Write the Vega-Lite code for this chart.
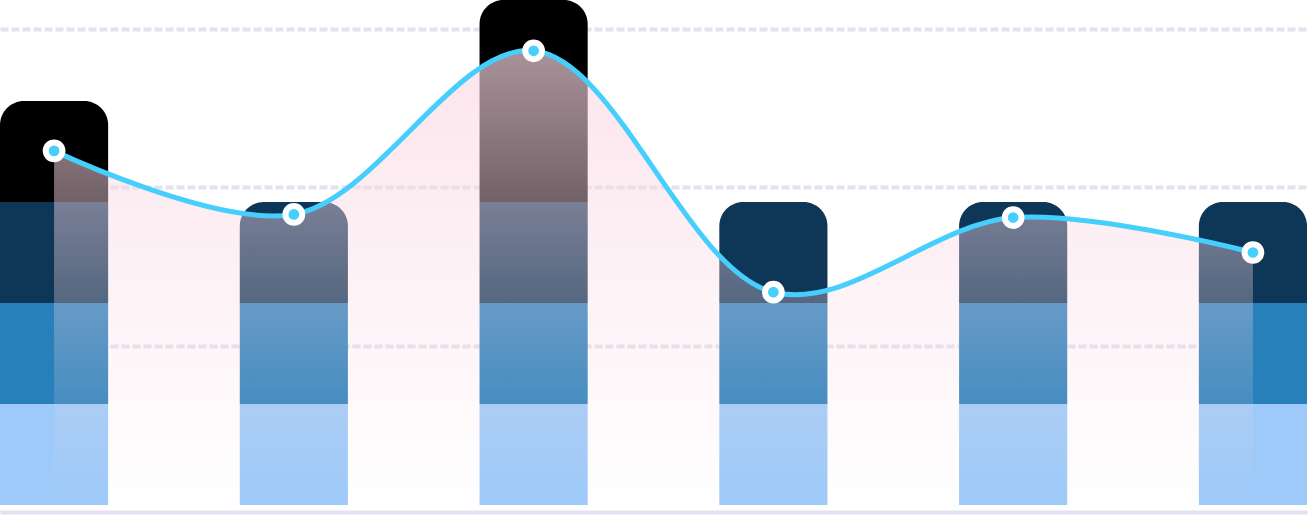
{
  "$schema": "https://vega.github.io/schema/vega-lite/v6.json",
  "description": "Stacked bars with a smoothed trend line and gradient area",
  "width": 1307,
  "height": 505,
  "autosize": "none",
  "padding": {"left": 0, "top": 0, "right": 1, "bottom": 10},
  "background": "white",
  "config": {"view": {"stroke": null}},
  "datasets": {
    "bars": [
      {"cat": "A", "seg": "s1", "lo": 0, "hi": 1, "top": false},
      {"cat": "A", "seg": "s2", "lo": 1, "hi": 2, "top": false},
      {"cat": "A", "seg": "s3", "lo": 2, "hi": 3, "top": false},
      {"cat": "A", "seg": "s4", "lo": 3, "hi": 4, "top": true},
      {"cat": "B", "seg": "s1", "lo": 0, "hi": 1, "top": false},
      {"cat": "B", "seg": "s2", "lo": 1, "hi": 2, "top": false},
      {"cat": "B", "seg": "s3", "lo": 2, "hi": 3, "top": true},
      {"cat": "C", "seg": "s1", "lo": 0, "hi": 1, "top": false},
      {"cat": "C", "seg": "s2", "lo": 1, "hi": 2, "top": false},
      {"cat": "C", "seg": "s3", "lo": 2, "hi": 3, "top": false},
      {"cat": "C", "seg": "s4", "lo": 3, "hi": 5, "top": true},
      {"cat": "D", "seg": "s1", "lo": 0, "hi": 1, "top": false},
      {"cat": "D", "seg": "s2", "lo": 1, "hi": 2, "top": false},
      {"cat": "D", "seg": "s3", "lo": 2, "hi": 3, "top": true},
      {"cat": "E", "seg": "s1", "lo": 0, "hi": 1, "top": false},
      {"cat": "E", "seg": "s2", "lo": 1, "hi": 2, "top": false},
      {"cat": "E", "seg": "s3", "lo": 2, "hi": 3, "top": true},
      {"cat": "F", "seg": "s1", "lo": 0, "hi": 1, "top": false},
      {"cat": "F", "seg": "s2", "lo": 1, "hi": 2, "top": false},
      {"cat": "F", "seg": "s3", "lo": 2, "hi": 3, "top": true}
    ],
    "trend": [
      {"cat": "A", "value": 223},
      {"cat": "B", "value": 183},
      {"cat": "C", "value": 286},
      {"cat": "D", "value": 134},
      {"cat": "E", "value": 181},
      {"cat": "F", "value": 159}
    ]
  },
  "encoding": {
    "x": {
      "field": "cat",
      "type": "nominal",
      "scale": {"paddingInner": 0.549, "paddingOuter": 0},
      "axis": {
        "title": null,
        "labels": false,
        "ticks": false,
        "grid": false,
        "domain": true,
        "domainColor": "#e2e2f0",
        "domainWidth": 4,
        "offset": 7
      }
    }
  },
  "layer": [
    {
      "data": {"name": "bars"},
      "encoding": {
        "y": {
          "field": "lo",
          "type": "quantitative",
          "scale": {"domain": [0, 5]},
          "axis": null
        },
        "y2": {"field": "hi"},
        "color": {
          "field": "seg",
          "type": "nominal",
          "scale": {
            "domain": ["s1", "s2", "s3", "s4"],
            "range": ["#9dcaf8", "#2780ba", "#0e3656", "#000000"]
          },
          "legend": null
        }
      },
      "layer": [
        {
          "transform": [{"filter": "!datum.top"}],
          "mark": {"type": "bar"}
        },
        {
          "transform": [{"filter": "datum.top"}],
          "mark": {"type": "bar", "cornerRadiusTopLeft": 24, "cornerRadiusTopRight": 24}
        }
      ]
    },
    {
      "data": {"name": "trend"},
      "encoding": {
        "y": {
          "field": "value",
          "type": "quantitative",
          "scale": {"domain": [0, 318]},
          "axis": {
            "title": null,
            "labels": false,
            "ticks": false,
            "domain": false,
            "grid": true,
            "values": [100, 200, 300],
            "gridColor": "#e2e2f0",
            "gridWidth": 4,
            "gridDash": [8, 3]
          }
        }
      },
      "layer": [
        {
          "mark": {
            "type": "area",
            "interpolate": "catmull-rom",
            "color": {
              "gradient": "linear",
              "x1": 0, "y1": 0, "x2": 0, "y2": 1,
              "stops": [
                {"offset": 0, "color": "rgba(250,216,227,0.68)"},
                {"offset": 1, "color": "rgba(250,216,227,0)"}
              ]
            }
          }
        },
        {
          "mark": {
            "type": "line",
            "interpolate": "catmull-rom",
            "color": "#46cefc",
            "strokeWidth": 5,
            "strokeCap": "round"
          }
        },
        {
          "mark": {
            "type": "point",
            "shape": "circle",
            "filled": true,
            "size": 280,
            "color": "#46cefc",
            "stroke": "white",
            "strokeWidth": 6,
            "opacity": 1
          }
        }
      ]
    }
  ],
  "resolve": {"scale": {"y": "independent", "color": "independent"}}
}
